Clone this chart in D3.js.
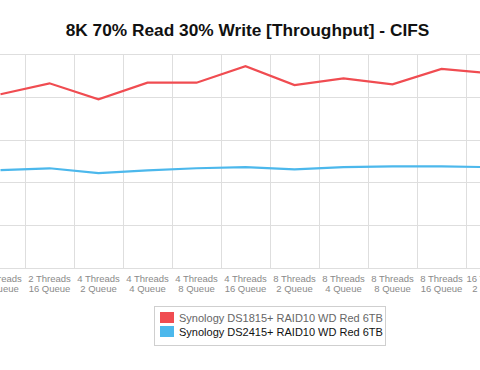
<!DOCTYPE html>
<html>
<head>
<meta charset="utf-8">
<script src="https://cdn.jsdelivr.net/npm/d3@7/dist/d3.min.js"></script>
<style>
  html, body { margin: 0; padding: 0; background: #fff; }
  svg { display: block; font-family: "Liberation Sans", Arial, Helvetica, sans-serif; }
</style>
</head>
<body>
<svg id="chart" width="480" height="370"></svg>
<script>
const title = "8K 70% Read 30% Write [Throughput] - CIFS";
const categories = [
  ["2 Threads", "8 Queue"],
  ["2 Threads", "16 Queue"],
  ["4 Threads", "2 Queue"],
  ["4 Threads", "4 Queue"],
  ["4 Threads", "8 Queue"],
  ["4 Threads", "16 Queue"],
  ["8 Threads", "2 Queue"],
  ["8 Threads", "4 Queue"],
  ["8 Threads", "8 Queue"],
  ["8 Threads", "16 Queue"],
  ["16 Threads", "2 Queue"]
];
const seriesNames = ["Synology DS1815+ RAID10 WD Red 6TB", "Synology DS2415+ RAID10 WD Red 6TB"];
const ds1815 = [81.2, 86.3, 78.8, 86.6, 86.6, 94.3, 85.5, 88.6, 85.8, 93.0, 91.0];
const ds2415 = [45.7, 46.6, 44.3, 45.6, 46.6, 47.1, 46.1, 47.1, 47.5, 47.5, 47.1];
const yTicks = [0, 20, 40, 60, 80, 100];
const colors = ["#f04c51", "#4cb8ec"];

const svg = d3.select("#chart");
const catKeys = categories.map(c => c.join(" "));

const x = d3.scalePoint().domain(catKeys).range([0.5, 490.5]);
const step = x.step();
const y = d3.scaleLinear().domain([0, 100]).range([268, 54]);

// title
svg.append("text")
  .attr("x", 247.5).attr("y", 35.5)
  .attr("text-anchor", "middle")
  .attr("font-size", "17.3px").attr("font-weight", "bold").attr("fill", "#111")
  .text(title);

const grid = svg.append("g").attr("stroke", "#dedede").attr("stroke-width", 1).attr("shape-rendering", "crispEdges");
// horizontal gridlines
grid.selectAll("line.h").data(yTicks).enter().append("line")
  .attr("x1", 0).attr("x2", 480)
  .attr("y1", d => Math.round(y(d)) + 0.5).attr("y2", d => Math.round(y(d)) + 0.5);
// vertical gridlines between categories
const vx = catKeys.map(k => x(k) + step / 2).concat([x(catKeys[0]) - step / 2]);
grid.selectAll("line.v").data(vx).enter().append("line")
  .attr("x1", d => Math.round(d) + 0.5).attr("x2", d => Math.round(d) + 0.5)
  .attr("y1", y(100)).attr("y2", y(0));

// x-axis labels
const xl = svg.append("g").attr("font-size", "9.5px").attr("fill", "#8a8a8a").attr("text-anchor", "middle");
categories.forEach((c, i) => {
  const t = xl.append("text").attr("x", x(catKeys[i])).attr("y", 281.5);
  t.append("tspan").attr("x", x(catKeys[i])).text(c[0]);
  t.append("tspan").attr("x", x(catKeys[i])).attr("dy", "1.1em").text(c[1]);
});

// lines
const line = d3.line().x((d, i) => x(catKeys[i])).y(d => y(d));
[ds1815, ds2415].forEach((s, i) => {
  svg.append("path").datum(s)
    .attr("fill", "none").attr("stroke", colors[i]).attr("stroke-width", 2.2)
    .attr("stroke-linejoin", "miter")
    .attr("d", line);
});

// legend
const lg = svg.append("g");
lg.append("rect").attr("x", 154.5).attr("y", 306.5).attr("width", 231).attr("height", 39)
  .attr("fill", "#fff").attr("stroke", "#cfcfcf");
const textColors = ["#666", "#111"];
seriesNames.forEach((n, i) => {
  lg.append("rect").attr("x", 160).attr("y", 312 + i * 14).attr("width", 14).attr("height", 11)
    .attr("fill", colors[i]);
  lg.append("text").attr("x", 179).attr("y", 322 + i * 14)
    .attr("font-size", "11px").attr("fill", textColors[i]).text(n);
});
</script>
</body>
</html>
